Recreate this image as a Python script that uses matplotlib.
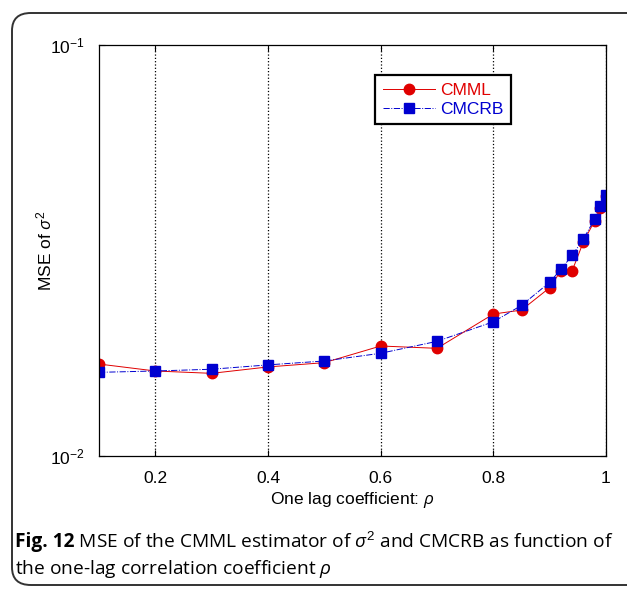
import matplotlib.pyplot as plt
from matplotlib.patches import FancyBboxPatch

plt.rcParams['font.family'] = ['Liberation Sans', 'DejaVu Sans']
plt.rcParams['mathtext.fontset'] = 'custom'
plt.rcParams['mathtext.rm'] = 'Liberation Sans'
plt.rcParams['mathtext.it'] = 'Open Sans:italic'

rho = [0.1, 0.2, 0.3, 0.4, 0.5, 0.6, 0.7, 0.8, 0.85, 0.9, 0.92, 0.94, 0.96, 0.98, 0.99, 1.0]
cmml = [0.01674, 0.01610, 0.01589, 0.01647, 0.01687, 0.01852, 0.01828, 0.02215, 0.02265,
        0.02567, 0.02824, 0.02824, 0.03322, 0.03737, 0.04019, 0.04292]
cmcrb = [0.01598, 0.01610, 0.01626, 0.01666, 0.01703, 0.01778, 0.01901, 0.02121, 0.02325,
         0.02646, 0.02846, 0.03078, 0.03373, 0.03778, 0.04051, 0.04309]
xticks = [0.2, 0.4, 0.6, 0.8, 1]
xticklabels = ['0.2', '0.4', '0.6', '0.8', '1']
yticks = [0.01, 0.1]
yticklabels = [r'$\mathregular{10^{-2}}$', r'$\mathregular{10^{-1}}$']

fig = plt.figure(figsize=(6.27, 5.90), dpi=100)

# rounded frame round the figure and caption
frame = FancyBboxPatch((12 / 627, 5 / 590), 640 / 627, 572 / 590,
                       boxstyle='round,pad=0,rounding_size=0.03',
                       transform=fig.transFigure, fill=False,
                       edgecolor='#333333', linewidth=1.4, clip_on=False)
fig.patches.append(frame)

ax = fig.add_axes([99 / 627, 134 / 590, 507 / 627, 411 / 590])
ax.plot(rho, cmml, '-', color='#e00000', linewidth=0.7, marker='o',
        markersize=7.5, markeredgecolor='#e00000', markerfacecolor='#e00000', label='CMML')
ax.plot(rho, cmcrb, '-.', color='#0000d0', linewidth=0.7, marker='s',
        markersize=7.3, markeredgecolor='#0000d0', markerfacecolor='#0000d0', label='CMCRB')

ax.set_yscale('log')
ax.set_xlim(0.1, 1)
ax.set_ylim(0.01, 0.1)
ax.set_xticks(xticks)
ax.set_xticklabels(xticklabels)
ax.set_yticks(yticks)
ax.set_yticklabels(yticklabels)
ax.minorticks_off()
ax.tick_params(direction='in', top=True, right=True, length=4, labelsize=12.5)
ax.tick_params(axis='x', pad=11)
ax.tick_params(axis='y', pad=10)
ax.xaxis.grid(True, linestyle=':', color='black', linewidth=0.9)
for s in ax.spines.values():
    s.set_linewidth(0.9)

ax.set_xlabel(r'One lag coefficient: $\rho$', fontsize=12.5, labelpad=3)
ax.set_ylabel(r'MSE of $\sigma^2$', fontsize=12.5)
ax.yaxis.set_label_coords(-0.088, 0.5)

leg = ax.legend(loc='upper left', bbox_to_anchor=(375 / 627, 1 - 75 / 590),
                bbox_transform=fig.transFigure, fancybox=False, framealpha=1,
                edgecolor='black', fontsize=12.5, handlelength=3.0,
                borderpad=0.45, labelspacing=0.2, handletextpad=0.3,
                borderaxespad=0)
leg.get_frame().set_linewidth(1.6)
for txt, col in zip(leg.get_texts(), ['#e00000', '#0000d0']):
    txt.set_color(col)

# caption
t1 = fig.text(15 / 627, 1 - 547 / 590, 'Fig. 12', family='Open Sans',
              fontweight='bold', fontsize=13.8, va='baseline')
plt.annotate(r' MSE of the CMML estimator of $\sigma^2$ and CMCRB as function of',
             xy=(1, 0), xycoords=t1, va='bottom', ha='left',
             family='Open Sans', fontsize=13.8, annotation_clip=False)
fig.text(15 / 627, 1 - 574 / 590, r'the one-lag correlation coefficient $\rho$',
         family='Open Sans', fontsize=13.8, va='baseline')

fig.savefig('out.png', dpi=100)
